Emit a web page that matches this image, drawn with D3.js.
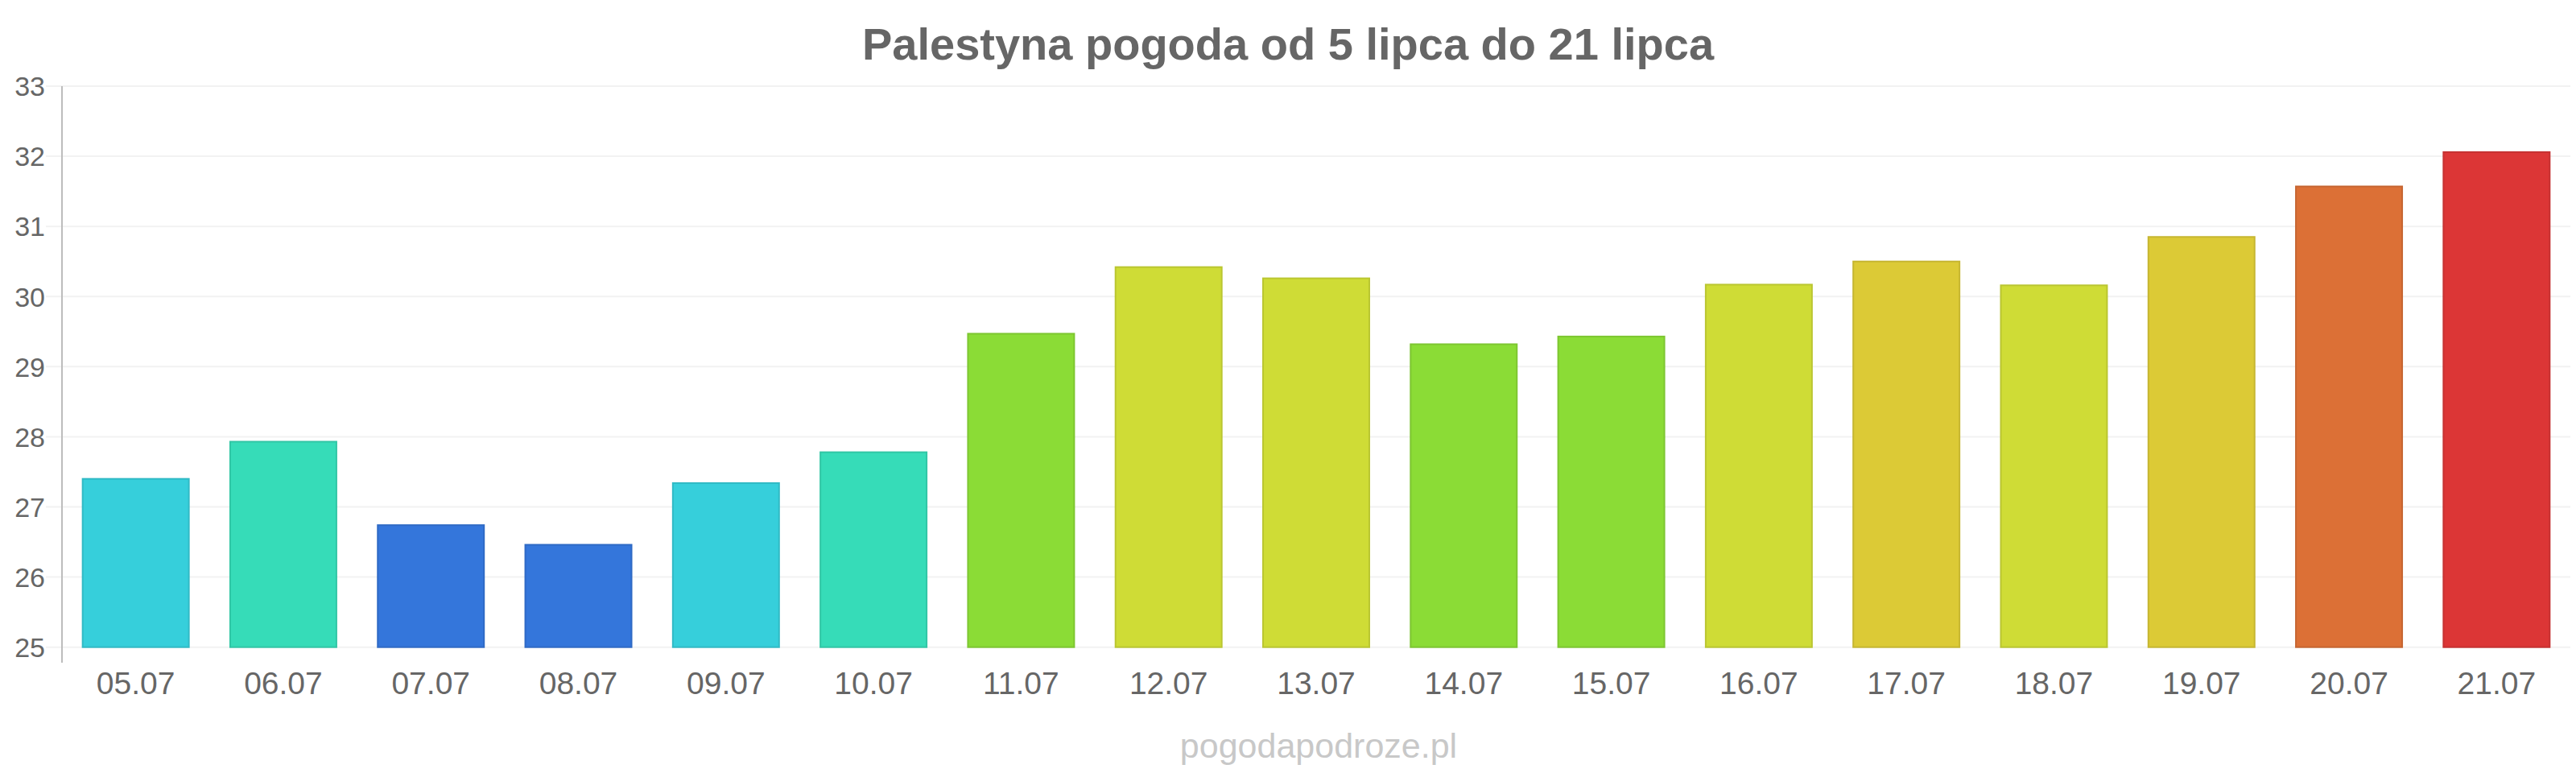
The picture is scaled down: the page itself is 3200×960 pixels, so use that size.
<!DOCTYPE html>
<html>
<head>
<meta charset="utf-8">
<script src="https://cdn.jsdelivr.net/npm/d3@7"></script>
<style>
  body { margin: 0; background: #fff; }
  svg { display: block; font-family: "Liberation Sans", Arial, sans-serif; }
</style>
</head>
<body>
<div id="chart"></div>
<script>
var days = ["05.07","06.07","07.07","08.07","09.07","10.07","11.07","12.07","13.07","14.07","15.07","16.07","17.07","18.07","19.07","20.07","21.07"];
var temps = [27.4, 27.93, 26.74, 26.46, 27.34, 27.78, 29.47, 30.42, 30.26, 29.32, 29.43, 30.17, 30.5, 30.16, 30.85, 31.57, 32.06];
var barColors = ["#36cfdb","#36dcb8","#3476db","#3476db","#36cfdb","#36dcb8","#8bdc36","#cfdc36","#cfdc36","#8bdc36","#8bdc36","#cfdc36","#dcca36","#cfdc36","#dcca36","#dc7036","#dc3636"];
var yTicks = [25, 26, 27, 28, 29, 30, 31, 32, 33];
var title = "Palestyna pogoda od 5 lipca do 21 lipca";
var credit = "pogodapodroze.pl";

var width = 3200, height = 960;
var plotLeft = 77, plotRight = 3193, plotTop = 107, plotBottom = 803.7;

var svg = d3.select("#chart").append("svg")
  .attr("width", width)
  .attr("height", height);

var x = d3.scaleBand().domain(days).range([plotLeft, plotRight]).paddingInner(0.28).paddingOuter(0.14);
var y = d3.scaleLinear().domain([25, 33]).range([plotBottom, plotTop]);

// grid lines
svg.append("g").selectAll("line")
  .data(yTicks)
  .enter()
  .append("line")
  .attr("x1", 57).attr("x2", plotRight)
  .attr("y1", function(d){ return y(d); })
  .attr("y2", function(d){ return y(d); })
  .attr("stroke", "#f2f2f2")
  .attr("stroke-width", 2);

// y axis line
svg.append("line")
  .attr("x1", plotLeft).attr("x2", plotLeft)
  .attr("y1", plotTop).attr("y2", 823)
  .attr("stroke", "#bdbdbd")
  .attr("stroke-width", 2);

// y labels
svg.append("g").selectAll("text")
  .data(yTicks)
  .enter()
  .append("text")
  .attr("x", 56)
  .attr("y", function(d){ return y(d); })
  .attr("dy", "0.36em")
  .attr("text-anchor", "end")
  .attr("font-size", 34)
  .attr("fill", "#666")
  .text(function(d){ return d; });

// bars
svg.append("g").selectAll("rect")
  .data(days)
  .enter()
  .append("rect")
  .attr("x", function(d){ return x(d); })
  .attr("width", x.bandwidth())
  .attr("y", function(d, i){ return y(temps[i]); })
  .attr("height", function(d, i){ return y(25) - y(temps[i]); })
  .attr("fill", function(d, i){ return barColors[i]; })
  .attr("stroke", function(d, i){ return d3.color(barColors[i]).darker(0.3); })
  .attr("stroke-width", 2);

// x labels
svg.append("g").selectAll("text")
  .data(days)
  .enter()
  .append("text")
  .attr("x", function(d){ return x(d) + x.bandwidth() / 2; })
  .attr("y", 862)
  .attr("text-anchor", "middle")
  .attr("font-size", 39)
  .attr("fill", "#666")
  .text(function(d){ return d; });

svg.append("text")
  .attr("x", 1600)
  .attr("y", 74)
  .attr("text-anchor", "middle")
  .attr("font-size", 56)
  .attr("font-weight", "bold")
  .attr("fill", "#666")
  .text(title);

svg.append("text")
  .attr("x", 1638)
  .attr("y", 941)
  .attr("text-anchor", "middle")
  .attr("font-size", 43)
  .attr("fill", "#c8c8c8")
  .text(credit);
</script>
</body>
</html>
